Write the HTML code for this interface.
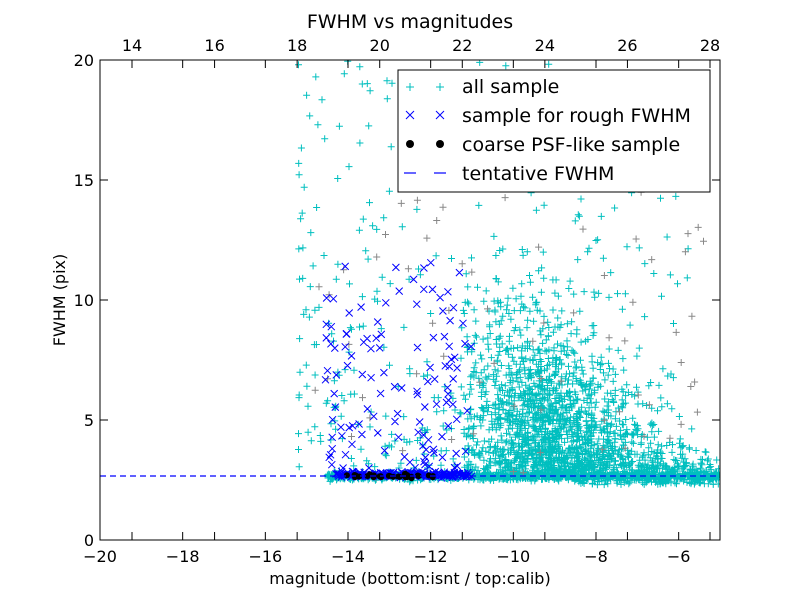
<!DOCTYPE html>
<html><head><meta charset="utf-8"><style>
body{margin:0;background:#fff;}
svg text{font-family:"DejaVu Sans","Liberation Sans",sans-serif;fill:#000;}
</style></head><body>
<svg id="s" width="800" height="600" xmlns="http://www.w3.org/2000/svg">
<rect width="800" height="600" fill="#fff"/>
<defs><clipPath id="c"><rect x="100" y="60" width="620" height="480"/></clipPath></defs>
<g id="pts" clip-path="url(#c)"></g>
<line x1="100" y1="476" x2="720" y2="476" stroke="#0000ff" stroke-width="1.2" stroke-dasharray="6,4" clip-path="url(#c)"/>
<rect x="100" y="60" width="620" height="480" fill="none" stroke="#000" stroke-width="1"/>
<g id="ticks" stroke="#000" stroke-width="1"></g>
<g id="labels" font-size="16"></g>
<text x="410" y="28" font-size="19" text-anchor="middle">FWHM vs magnitudes</text>
<text x="410" y="584" font-size="16" text-anchor="middle">magnitude (bottom:isnt / top:calib)</text>
<text x="65" y="300" font-size="16" text-anchor="middle" transform="rotate(-90 65 300)">FWHM (pix)</text>
<rect x="398" y="70" width="312" height="122" fill="#fff" stroke="#000"/>
<g stroke-width="1">
<path d="M406 87h8M410 83v8M436 87h8M440 83v8" stroke="#00bfbf"/>
<path d="M406 111l8 8M414 111l-8 8M436 111l8 8M444 111l-8 8" stroke="#0000ff"/>
</g>
<circle cx="410" cy="144" r="4" fill="#000"/><circle cx="440" cy="144" r="4" fill="#000"/>
<line x1="404" y1="173" x2="416" y2="173" stroke="#0000ff" stroke-width="1.2"/>
<line x1="434" y1="173" x2="446" y2="173" stroke="#0000ff" stroke-width="1.2"/>
<g font-size="19">
<text x="462" y="93">all sample</text>
<text x="462" y="122">sample for rough FWHM</text>
<text x="462" y="151">coarse PSF-like sample</text>
<text x="462" y="180">tentative FWHM</text>
</g>
</svg>
<script>
var NS="http://www.w3.org/2000/svg";
function X(v){return 100+(v+20)*620/15;}
function Y(v){return 540-v*24;}
function Xt(v){return 132+(v-14)*(710-132)/14;}
var seed=12345;function r(){seed=(seed*1103515245+12345)%2147483648;return seed/2147483648;}
function n(){var u=r()||1e-9,v=r();return Math.sqrt(-2*Math.log(u))*Math.cos(2*Math.PI*v);}
var cy="",bl="",bk="",gr="";
function plus(x,y){var a=X(x),b=Y(y);return "M"+(a-3.5).toFixed(1)+" "+b.toFixed(1)+"h7M"+a.toFixed(1)+" "+(b-3.5).toFixed(1)+"v7";}
function cross(x,y){var a=X(x),b=Y(y);return "M"+(a-3.5).toFixed(1)+" "+(b-3.5).toFixed(1)+"l7 7M"+(a+3.5).toFixed(1)+" "+(b-3.5).toFixed(1)+"l-7 7";}
var i,x,y;
for(i=0;i<1500;i++){x=-9.2+n()*1.0;if(x<-11.2)x=-11.2+r()*0.5;y=2.6+Math.abs(n())*2.5*(1+(-x-8)*0.15);cy+=plus(x,y);}
for(i=0;i<900;i++){x=-14.5+r()*9.5;y=2.65+n()*0.08;cy+=plus(x,y);}
for(i=0;i<400;i++){x=-8.5+r()*3.5;y=2.3+Math.abs(n())*(1.6-(x+8.5)*0.3);cy+=plus(x,y);}
for(i=0;i<380;i++){x=-15.2+Math.pow(r(),1.2)*9.5;y=3+Math.pow(r(),1.6)*17;cy+=plus(x,y);}
for(i=0;i<70;i++){x=-14.8+r()*9.5;y=2.5+r()*12;gr+=plus(x,y);}
for(i=0;i<180;i++){x=-14.3+r()*3.3;y=2.72+n()*0.05;bl+=cross(x,y);}
for(i=0;i<120;i++){x=-14.6+r()*3.6;y=3+Math.pow(r(),1.4)*8.6;bl+=cross(x,y);}
for(i=0;i<30;i++){x=-14.1+r()*2.3;y=2.65+n()*0.04;bk+='<circle cx="'+X(x).toFixed(1)+'" cy="'+Y(y).toFixed(1)+'" r="3"/>';}
document.getElementById("pts").innerHTML='<path d="'+cy+'" stroke="#00bfbf" fill="none" stroke-width="1"/><path d="'+gr+'" stroke="#888" fill="none" stroke-width="1"/><path d="'+bl+'" stroke="#0000ff" fill="none" stroke-width="1"/><g fill="#000">'+bk+'</g>';
var t="",l="";
for(var v=-20;v<=-6;v+=2){var a=X(v);t+='<line x1="'+a+'" y1="540" x2="'+a+'" y2="532"/><line x1="'+a+'" y1="60" x2="'+a+'" y2="68"/>';l+='<text x="'+a+'" y="562" text-anchor="middle">'+(v<0?"\u2212"+(-v):v)+'</text>';}
for(v=14;v<=28;v+=2){a=Xt(v);t+='<line x1="'+a+'" y1="60" x2="'+a+'" y2="68"/><line x1="'+a+'" y1="540" x2="'+a+'" y2="532"/>';l+='<text x="'+a+'" y="51" text-anchor="middle">'+v+'</text>';}
for(v=0;v<=20;v+=5){var b=Y(v);t+='<line x1="100" y1="'+b+'" x2="108" y2="'+b+'"/><line x1="720" y1="'+b+'" x2="712" y2="'+b+'"/>';l+='<text x="94" y="'+(b+6)+'" text-anchor="end">'+v+'</text>';}
document.getElementById("ticks").innerHTML=t;document.getElementById("labels").innerHTML=l;
</script>
</body></html>
